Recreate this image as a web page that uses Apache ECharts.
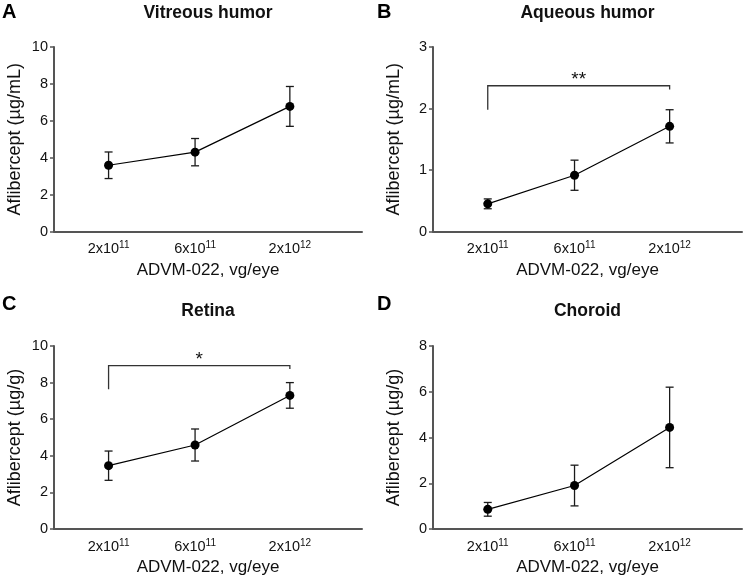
<!DOCTYPE html>
<html>
<head>
<meta charset="utf-8">
<script src="https://cdn.jsdelivr.net/npm/echarts@6/dist/echarts.min.js"></script>
<style>
html,body{margin:0;padding:0;background:#fff;}
#chart{width:744px;height:577px;}
</style>
</head>
<body>
<div id="chart"></div>
<script>
// ---- data ----
const doses = [2e11, 6e11, 2e12];
const xTickLabels = ['2x10{s|11}', '6x10{s|11}', '2x10{s|12}'];

const panelLetters = ['A', 'B', 'C', 'D'];
const panelTitles = ['Vitreous humor', 'Aqueous humor', 'Retina', 'Choroid'];
const yNames = ['Aflibercept (µg/mL)', 'Aflibercept (µg/mL)', 'Aflibercept (µg/g)', 'Aflibercept (µg/g)'];
const xName = 'ADVM-022, vg/eye';
const yMax = [10, 3, 10, 8];
const yInterval = [2, 1, 2, 2];

const vitreousMean = [3.59, 4.30, 6.78];
const vitreousErr  = [0.72, 0.74, 1.08];
const aqueousMean  = [0.45, 0.915, 1.71];
const aqueousErr   = [0.08, 0.245, 0.27];
const retinaMean   = [3.46, 4.59, 7.30];
const retinaErr    = [0.80, 0.875, 0.70];
const choroidMean  = [0.86, 1.90, 4.44];
const choroidErr   = [0.30, 0.89, 1.76];

// significance brackets
const bracketPanels = [1, 2];
const bracketLeft   = [2e11, 2e11];
const bracketRight  = [2e12, 2e12];
const bracketTop    = [2.37, 8.93];
const bracketLeftEnd  = [1.98, 7.63];
const bracketRightEnd = [2.31, 8.75];
const bracketLabels = ['**', '*'];

const xAxisMin = 1e11, xAxisMax = 5e12;

// ---- build ----
const means = [vitreousMean, aqueousMean, retinaMean, choroidMean];
const errs = [vitreousErr, aqueousErr, retinaErr, choroidErr];
const FONT = 'Liberation Sans, Arial, Helvetica, sans-serif';
const lg = Math.log10;

const gridPos = [
  {left: 54, top: 47, width: 308, height: 184.5},
  {left: 433, top: 47, width: 309, height: 184.5},
  {left: 54, top: 346, width: 308, height: 184},
  {left: 433, top: 346, width: 309, height: 184}
];
const titlePos = [
  {x: 208, y: 4, lx: 2, ly: 2},
  {x: 587.5, y: 4, lx: 377, ly: 2},
  {x: 208, y: 302, lx: 2, ly: 294},
  {x: 587.5, y: 302, lx: 377, ly: 294}
];

const axisColor = '#555';
const grids = [], xAxes = [], yAxes = [], series = [], titles = [];

for (let i = 0; i < 4; i++) {
  grids.push(Object.assign({containLabel: false}, gridPos[i]));
  xAxes.push({
    type: 'value', gridIndex: i,
    min: lg(xAxisMin), max: lg(xAxisMax),
    name: xName, nameLocation: 'middle', nameGap: 30,
    nameTextStyle: {fontSize: 17, color: '#111', fontFamily: FONT},
    axisLine: {show: true, lineStyle: {color: axisColor, width: 2}},
    axisTick: {show: false},
    splitLine: {show: false},
    axisLabel: {
      customValues: doses.map(lg),
      margin: 9,
      color: '#111', fontSize: 14.5, fontFamily: FONT,
      formatter: function (v) {
        let best = 0;
        for (let k = 0; k < doses.length; k++) if (Math.abs(lg(doses[k]) - v) < Math.abs(lg(doses[best]) - v)) best = k;
        return xTickLabels[best];
      },
      rich: {
        s: {fontSize: 10, verticalAlign: 'top', color: '#111', fontFamily: FONT, padding: [0, 0, 7, 0]}
      }
    }
  });
  yAxes.push({
    type: 'value', gridIndex: i, min: 0, max: yMax[i], interval: yInterval[i],
    name: yNames[i], nameLocation: 'middle', nameGap: 30,
    nameTextStyle: {fontSize: 18, color: '#111', fontFamily: FONT},
    axisLine: {show: true, lineStyle: {color: axisColor, width: 2}},
    axisTick: {show: true, length: 4, lineStyle: {color: axisColor, width: 1.5}},
    splitLine: {show: false},
    axisLabel: {margin: 6, color: '#111', fontSize: 14.5, fontFamily: FONT}
  });
  // error bars
  series.push({
    type: 'custom', xAxisIndex: i, yAxisIndex: i, z: 2, silent: true,
    data: doses.map((d, k) => [lg(d), means[i][k] - errs[i][k], means[i][k] + errs[i][k]]),
    renderItem: function (params, api) {
      const x = api.value(0);
      const pLo = api.coord([x, api.value(1)]);
      const pHi = api.coord([x, api.value(2)]);
      const w = 4;
      const st = {stroke: '#1a1a1a', lineWidth: 1.3};
      return {type: 'group', children: [
        {type: 'line', shape: {x1: pLo[0], y1: pLo[1], x2: pHi[0], y2: pHi[1]}, style: st},
        {type: 'line', shape: {x1: pLo[0] - w, y1: pLo[1], x2: pLo[0] + w, y2: pLo[1]}, style: st},
        {type: 'line', shape: {x1: pHi[0] - w, y1: pHi[1], x2: pHi[0] + w, y2: pHi[1]}, style: st}
      ]};
    }
  });
  // mean line
  series.push({
    type: 'line', xAxisIndex: i, yAxisIndex: i, z: 3, silent: true,
    data: doses.map((d, k) => [lg(d), means[i][k]]),
    symbol: 'circle', symbolSize: 9,
    itemStyle: {color: '#000'},
    lineStyle: {color: '#000', width: 1.2},
    animation: false
  });
  titles.push({
    text: panelTitles[i], left: titlePos[i].x, top: titlePos[i].y, textAlign: 'center', padding: 0,
    textStyle: {fontSize: 17.5, fontWeight: 'bold', color: '#111', fontFamily: FONT}
  });
  titles.push({
    text: panelLetters[i], left: titlePos[i].lx, top: titlePos[i].ly, padding: 0,
    textStyle: {fontSize: 20, fontWeight: 'bold', color: '#000', fontFamily: FONT}
  });
}

// brackets
for (let b = 0; b < bracketPanels.length; b++) {
  const p = bracketPanels[b];
  const label = bracketLabels[b];
  series.push({
    type: 'custom', xAxisIndex: p, yAxisIndex: p, z: 2, silent: true,
    data: [[lg(bracketLeft[b]), lg(bracketRight[b]), bracketTop[b], bracketLeftEnd[b], bracketRightEnd[b]]],
    renderItem: function (params, api) {
      const xl = api.value(0), xr = api.value(1), yt = api.value(2);
      const a = api.coord([xl, api.value(3)]);
      const c1 = api.coord([xl, yt]);
      const c2 = api.coord([xr, yt]);
      const d = api.coord([xr, api.value(4)]);
      return {type: 'group', children: [
        {type: 'polyline', shape: {points: [a, c1, c2, d]}, style: {stroke: '#333', lineWidth: 1.3, fill: null}},
        {type: 'text', style: {text: label, x: (c1[0] + c2[0]) / 2, y: c1[1] + 4, align: 'center', verticalAlign: 'bottom',
          fontSize: 19, fontFamily: FONT, fill: '#111'}}
      ]};
    }
  });
}

const chart = echarts.init(document.getElementById('chart'), null, {renderer: 'canvas'});
chart.setOption({
  animation: false,
  backgroundColor: '#fff',
  title: titles,
  grid: grids,
  xAxis: xAxes,
  yAxis: yAxes,
  series: series
});
</script>
</body>
</html>
